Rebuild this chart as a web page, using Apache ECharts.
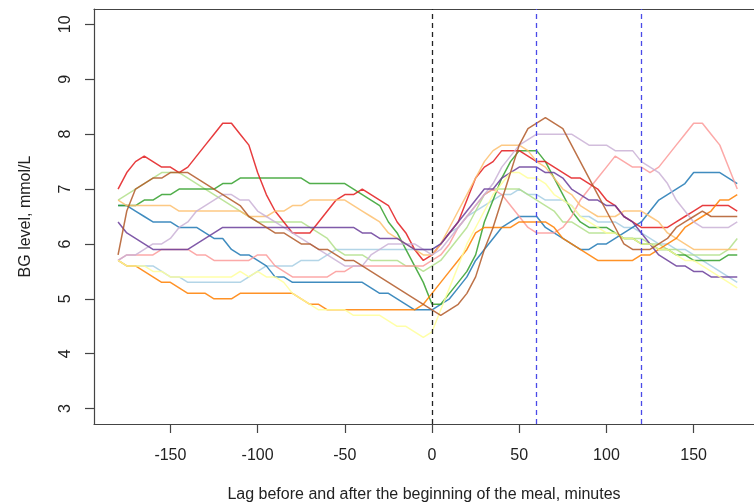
<!DOCTYPE html>
<html>
<head>
<meta charset="utf-8">
<script src="https://cdn.jsdelivr.net/npm/echarts@6/dist/echarts.min.js"></script>
<style>
  html, body { margin: 0; padding: 0; background: #fff; }
  #chart { width: 754px; height: 504px; }
</style>
</head>
<body>
<div id="chart"></div>
<script>
// minutes relative to meal start
const lags = [-180,-175,-170,-165,-160,-155,-150,-145,-140,-135,-130,-125,
  -120,-115,-110,-105,-100,-95,-90,-85,-80,-75,-70,-65,
  -60,-55,-50,-45,-40,-35,-30,-25,-20,-15,-10,-5,
  0,5,10,15,20,25,30,35,40,45,50,55,
  60,65,70,75,80,85,90,95,100,105,110,115,
  120,125,130,135,140,145,150,155,160,165,170,175];

const lightBlue = [5.7,5.6,5.6,5.6,5.6,5.5,5.4,5.4,5.3,5.3,5.3,5.3,
  5.3,5.3,5.3,5.4,5.5,5.6,5.6,5.6,5.6,5.7,5.7,5.7,
  5.8,5.9,5.9,5.9,5.9,5.9,5.9,5.9,5.9,5.9,5.9,5.9,
  5.9,6.0,6.2,6.3,6.5,6.6,6.7,6.8,6.9,6.9,7.0,6.9,
  6.9,6.8,6.8,6.8,6.7,6.5,6.5,6.4,6.4,6.4,6.3,6.3,
  6.2,6.1,6.0,6.0,5.9,5.9,5.8,5.7,5.6,5.5,5.4,5.3];
const blue = [6.7,6.7,6.6,6.5,6.4,6.4,6.4,6.3,6.3,6.3,6.2,6.1,
  6.1,5.9,5.8,5.8,5.7,5.6,5.4,5.4,5.3,5.3,5.3,5.3,
  5.3,5.3,5.3,5.3,5.3,5.2,5.1,5.1,5.0,4.9,4.8,4.8,
  4.8,4.9,5.0,5.2,5.4,5.7,5.9,6.1,6.3,6.4,6.5,6.5,
  6.5,6.3,6.2,6.1,6.0,5.9,5.9,6.0,6.0,6.1,6.2,6.3,
  6.4,6.6,6.8,6.9,7.0,7.1,7.3,7.3,7.3,7.3,7.2,7.1];
const lightGreen = [6.8,6.9,7.0,7.1,7.2,7.3,7.3,7.3,7.2,7.1,7.0,6.9,
  6.8,6.7,6.6,6.5,6.4,6.4,6.4,6.4,6.4,6.4,6.3,6.2,
  6.1,5.9,5.8,5.8,5.8,5.7,5.7,5.7,5.7,5.6,5.6,5.5,
  5.6,5.7,5.9,6.1,6.3,6.6,6.9,7.0,7.0,7.0,7.0,6.9,
  6.8,6.7,6.6,6.4,6.4,6.3,6.2,6.2,6.2,6.2,6.1,6.1,
  6.1,6.0,6.0,5.9,5.9,5.8,5.8,5.8,5.8,5.8,5.9,6.1];
const green = [6.7,6.7,6.7,6.8,6.8,6.9,6.9,7.0,7.0,7.0,7.0,7.0,
  7.1,7.1,7.2,7.2,7.2,7.2,7.2,7.2,7.2,7.2,7.1,7.1,
  7.1,7.1,7.1,7.0,6.9,6.8,6.7,6.4,6.2,5.9,5.6,5.3,
  4.9,4.9,5.1,5.3,5.5,5.8,6.4,6.8,7.2,7.5,7.7,7.7,
  7.7,7.5,7.2,6.9,6.6,6.4,6.3,6.3,6.3,6.2,6.1,6.1,
  6.0,6.0,5.9,5.9,5.8,5.8,5.7,5.7,5.7,5.7,5.8,5.8];
const pink = [5.7,5.8,5.8,5.8,5.8,5.9,5.9,5.9,5.9,5.8,5.8,5.7,
  5.7,5.7,5.7,5.7,5.8,5.8,5.6,5.5,5.4,5.4,5.4,5.4,
  5.4,5.5,5.5,5.6,5.6,5.6,5.6,5.6,5.6,5.6,5.6,5.6,
  5.7,5.8,6.0,6.3,6.5,6.7,6.9,7.0,6.9,6.7,6.5,6.3,
  6.2,6.2,6.2,6.3,6.5,6.8,7.0,7.2,7.4,7.6,7.5,7.4,
  7.4,7.3,7.4,7.6,7.8,8.0,8.2,8.2,8.0,7.8,7.4,7.0];
const red = [7.0,7.3,7.5,7.6,7.5,7.4,7.4,7.3,7.4,7.6,7.8,8.0,
  8.2,8.2,8.0,7.8,7.3,6.9,6.6,6.4,6.2,6.2,6.2,6.4,
  6.6,6.8,6.9,6.9,7.0,6.9,6.8,6.7,6.4,6.2,5.9,5.7,
  5.8,6.0,6.2,6.4,6.8,7.2,7.4,7.5,7.7,7.7,7.7,7.6,
  7.5,7.5,7.4,7.3,7.2,7.2,7.1,7.0,6.8,6.7,6.5,6.4,
  6.3,6.3,6.3,6.3,6.4,6.5,6.6,6.7,6.7,6.7,6.7,6.6];
const lightOrange = [6.8,6.7,6.7,6.7,6.7,6.7,6.7,6.6,6.6,6.6,6.6,6.6,
  6.6,6.6,6.6,6.5,6.5,6.5,6.6,6.6,6.7,6.7,6.8,6.8,
  6.8,6.8,6.8,6.7,6.6,6.5,6.4,6.2,6.1,6.0,5.9,5.8,
  5.8,6.0,6.3,6.6,6.9,7.2,7.5,7.7,7.8,7.8,7.8,7.7,
  7.5,7.4,7.2,7.0,6.9,6.7,6.6,6.5,6.5,6.5,6.6,6.6,
  6.6,6.5,6.4,6.2,6.1,6.0,5.9,5.9,5.9,5.9,5.9,5.9];
const orange = [5.7,5.6,5.6,5.5,5.4,5.3,5.3,5.2,5.1,5.1,5.1,5.0,
  5.0,5.0,5.1,5.1,5.1,5.1,5.1,5.1,5.1,5.0,4.9,4.9,
  4.8,4.8,4.8,4.8,4.8,4.8,4.8,4.8,4.8,4.8,4.8,4.9,
  5.1,5.3,5.5,5.7,5.9,6.2,6.3,6.3,6.3,6.3,6.4,6.4,
  6.4,6.4,6.3,6.1,6.0,5.9,5.8,5.7,5.7,5.7,5.7,5.7,
  5.8,5.8,5.9,6.0,6.1,6.3,6.4,6.5,6.6,6.8,6.8,6.9];
const lightPurple = [5.7,5.8,5.8,5.9,6.0,6.0,6.1,6.3,6.4,6.6,6.7,6.8,
  6.9,6.9,6.8,6.8,6.6,6.5,6.4,6.3,6.2,6.1,6.0,5.9,
  5.8,5.7,5.6,5.6,5.6,5.8,5.9,6.0,6.0,6.0,6.0,5.9,
  5.8,5.9,6.1,6.3,6.5,6.7,6.9,7.1,7.4,7.6,7.8,7.9,
  8.0,8.0,8.0,8.0,8.0,7.9,7.8,7.8,7.8,7.7,7.7,7.7,
  7.5,7.4,7.3,7.1,6.8,6.6,6.4,6.3,6.3,6.3,6.3,6.4];
const purple = [6.4,6.2,6.1,6.0,5.9,5.9,5.9,5.9,5.9,6.0,6.1,6.2,
  6.3,6.3,6.3,6.3,6.3,6.3,6.3,6.3,6.3,6.3,6.3,6.3,
  6.3,6.3,6.3,6.3,6.2,6.2,6.1,6.1,6.1,6.0,5.9,5.9,
  5.9,6.0,6.2,6.4,6.6,6.8,7.0,7.0,7.2,7.3,7.4,7.4,
  7.4,7.3,7.3,7.2,7.0,6.9,6.8,6.8,6.7,6.7,6.5,6.4,
  6.2,6.0,5.8,5.7,5.6,5.6,5.5,5.5,5.4,5.4,5.4,5.4];
const lightYellow = [5.7,5.6,5.6,5.6,5.5,5.5,5.4,5.4,5.4,5.4,5.4,5.4,
  5.4,5.4,5.5,5.4,5.5,5.4,5.4,5.3,5.1,5.0,4.9,4.8,
  4.8,4.8,4.8,4.7,4.7,4.7,4.7,4.6,4.5,4.5,4.4,4.3,
  4.4,4.8,5.2,5.6,6.0,6.3,6.6,6.9,7.1,7.3,7.3,7.2,
  7.2,7.1,6.9,6.8,6.7,6.5,6.4,6.3,6.2,6.2,6.1,6.1,
  6.0,6.0,5.9,5.9,5.8,5.7,5.7,5.6,5.5,5.4,5.3,5.2];
const brown = [5.8,6.6,7.0,7.1,7.2,7.2,7.3,7.3,7.3,7.2,7.1,7.0,
  6.9,6.8,6.7,6.5,6.4,6.3,6.2,6.2,6.1,6.0,6.0,5.9,
  5.9,5.8,5.7,5.7,5.6,5.5,5.4,5.3,5.2,5.1,5.0,4.9,
  4.8,4.7,4.8,4.9,5.1,5.4,5.9,6.3,6.8,7.3,7.8,8.1,
  8.2,8.3,8.2,8.1,7.8,7.5,7.2,6.9,6.6,6.3,6.0,5.9,
  5.9,5.9,6.0,6.1,6.3,6.4,6.5,6.6,6.5,6.5,6.5,6.5];

// RColorBrewer "Paired"
const curves = [
  ['lightBlue', lightBlue, '#A6CEE3'],
  ['blue', blue, '#1F78B4'],
  ['lightGreen', lightGreen, '#B2DF8A'],
  ['green', green, '#33A02C'],
  ['pink', pink, '#FB9A99'],
  ['red', red, '#E31A1C'],
  ['lightOrange', lightOrange, '#FDBF6F'],
  ['orange', orange, '#FF7F00'],
  ['lightPurple', lightPurple, '#CAB2D6'],
  ['purple', purple, '#6A3D9A'],
  ['lightYellow', lightYellow, '#FFFF99'],
  ['brown', brown, '#B15928']
];

const yTicks = [3, 4, 5, 6, 7, 8, 9, 10];
const xTicks = [-150, -100, -50, 0, 50, 100, 150];
const mealMarks = [0, 60, 120];

const font = 'Liberation Sans';
const ink = '#222';
const frame = { color: '#444', width: 1.2 };

const chart = echarts.init(document.getElementById('chart'), null, { renderer: 'canvas' });

const series = curves.map(([name, vals, color]) => ({
  name,
  type: 'line',
  data: lags.map((x, i) => [x, vals[i]]),
  showSymbol: false,
  silent: true,
  lineStyle: { color, width: 1.5, opacity: 0.85 }
}));

// dashed verticals: meal start (black), +60 and +120 min (blue)
series.push({
  type: 'line',
  data: [],
  silent: true,
  markLine: {
    silent: true,
    symbol: ['none', 'none'],
    label: { show: false },
    animation: false,
    data: mealMarks.map((m) => ({
      xAxis: m,
      lineStyle: { color: m === 0 ? '#222' : '#4a4ae8', type: [5, 4], width: 1.3 }
    }))
  }
});

// plot frame is cropped on the right in the original, so the grid runs to the canvas edge
chart.setOption({
  animation: false,
  grid: { left: 94, top: 9, right: 0, height: 415, show: false, outerBoundsMode: 'none' },
  xAxis: [{
    type: 'value',
    min: -193.8,
    max: 184.6,
    axisLine: { show: true, onZero: false, lineStyle: frame },
    splitLine: { show: false },
    axisTick: { customValues: xTicks, length: 9, lineStyle: frame },
    axisLabel: { customValues: xTicks, fontFamily: font, fontSize: 16, color: ink, margin: 24 },
    name: 'Lag before and after the beginning of the meal, minutes',
    nameLocation: 'middle',
    nameGap: 63,
    nameTextStyle: { fontFamily: font, fontSize: 16, color: ink }
  }, {
    type: 'value',
    position: 'top',
    min: -193.8,
    max: 184.6,
    axisLine: { show: true, onZero: false, lineStyle: frame },
    axisTick: { show: false },
    axisLabel: { show: false },
    splitLine: { show: false }
  }],
  yAxis: {
    type: 'value',
    min: 2.72,
    max: 10.28,
    axisLine: { show: true, onZero: false, lineStyle: frame },
    splitLine: { show: false },
    axisTick: { customValues: yTicks, length: 9, lineStyle: frame },
    axisLabel: { customValues: yTicks, rotate: 90, fontFamily: font, fontSize: 16, color: ink, margin: 20 },
    name: 'BG level, mmol/L',
    nameLocation: 'middle',
    nameGap: 60,
    nameTextStyle: { fontFamily: font, fontSize: 16, color: ink }
  },
  series
});
</script>
</body>
</html>
